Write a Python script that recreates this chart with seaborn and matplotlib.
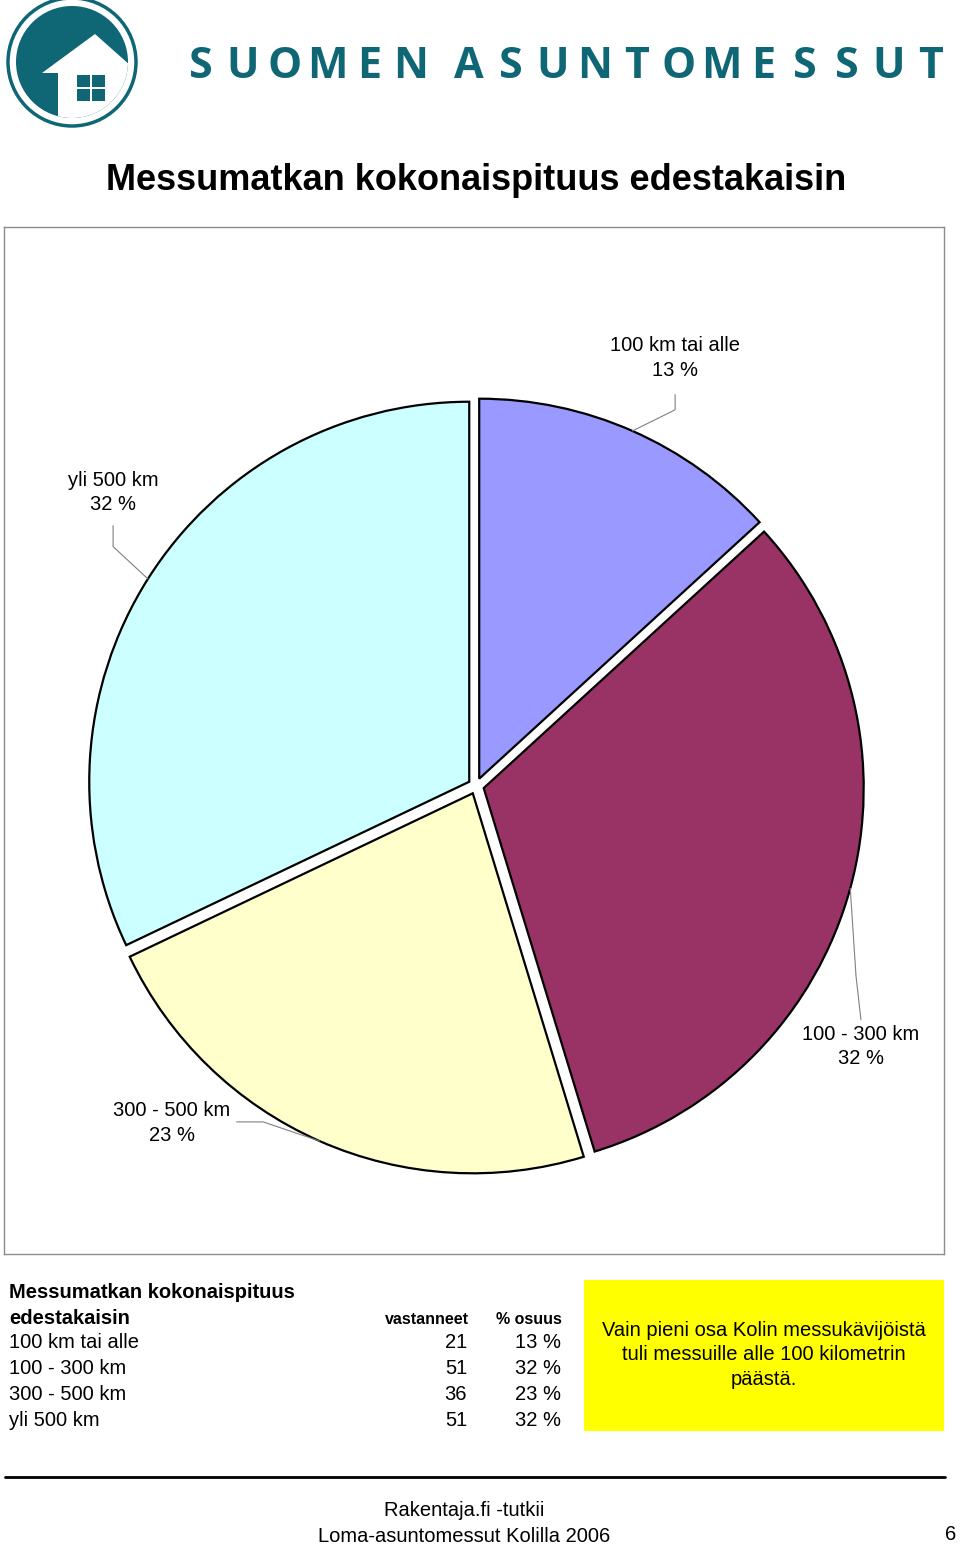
import numpy as np
import seaborn as sns
import matplotlib.pyplot as plt
from matplotlib.patches import Circle, Polygon, Rectangle

# data
categories = ["100 km tai alle", "100 - 300 km", "300 - 500 km", "yli 500 km"]
respondents = [21, 51, 36, 51]
shares = [13, 32, 23, 32]
slice_colors = ["#9999FF", "#993366", "#FFFFCC", "#CCFFFF"]

title = "Messumatkan kokonaispituus edestakaisin"
note_text = "Vain pieni osa Kolin messukävijöistä\ntuli messuille alle 100 kilometrin\npäästä."
footer_lines = ["Rakentaja.fi -tutkii", "Loma-asuntomessut Kolilla 2006"]
page_no = "6"

# label placement (pie data units, radius = 1)
label_xy = [(0.524, 1.126), (1.013, -0.685), (-0.80, -0.887), (-0.955, 0.773)]
leader_start = [(0.524, 1.030), (1.013, -0.615), (-0.63, -0.884), (-0.955, 0.685)]
leader_knee = [(0.524, 0.99), (1.00, -0.50), (-0.56, -0.884), (-0.955, 0.63)]

TEAL = "#0F6674"
FS = 14.5


def main():
    sns.set_theme(style="white")
    plt.rcParams["font.family"] = ["Liberation Sans", "DejaVu Sans"]
    plt.rcParams["text.color"] = "black"

    W, H = 960, 1545
    fig = plt.figure(figsize=(W / 100, H / 100), dpi=100)

    # background axes in pixel coordinates for page decoration
    bg = fig.add_axes([0, 0, 1, 1])
    bg.set_xlim(0, W)
    bg.set_ylim(H, 0)
    bg.axis("off")

    # logo
    bg.add_patch(Circle((72, 62), 64, facecolor="white", edgecolor=TEAL, lw=2.5))
    disk = Circle((72, 62), 56, facecolor=TEAL, edgecolor="none")
    bg.add_patch(disk)
    house = Polygon([(42, 73), (95, 34), (140, 74), (140, 130), (58, 130), (58, 73)],
                    closed=True, facecolor="white", edgecolor="none")
    bg.add_patch(house)
    house.set_clip_path(disk)
    for wx, wy in [(77, 75), (92, 75), (77, 89), (92, 89)]:
        bg.add_patch(Rectangle((wx, wy), 13, 12, facecolor=TEAL, edgecolor="none"))

    # brand name, spaced letters
    brand = "SUOMEN ASUNTOMESSUT"
    x = 201
    for ch in brand:
        if ch == " ":
            x += 16
            continue
        bg.text(x, 66, ch, fontsize=31, fontweight="bold", color=TEAL,
                ha="center", va="center", family=["Open Sans", "DejaVu Sans"])
        x += 42

    bg.text(476, 181, title, fontsize=26, fontweight="bold", ha="center", va="center")

    # pie chart
    ax = fig.add_axes([4 / W, (H - 1254) / H, 940 / W, 1027 / H])
    wedges, _ = ax.pie(respondents, colors=slice_colors, startangle=90, counterclock=False,
                       explode=[0.021] * 4,
                       wedgeprops=dict(edgecolor="black", linewidth=1.6))
    ax.set_aspect("auto")
    ax.set_xlim(-472 / 380, 468 / 380)
    ax.set_ylim(-468 / 380, 559 / 380)
    ax.set_frame_on(True)
    for sp in ax.spines.values():
        sp.set_visible(True)
        sp.set_color("#8c8c8c")
        sp.set_linewidth(1)

    for w, cat, pct, lxy, st, kn in zip(wedges, categories, shares, label_xy, leader_start, leader_knee):
        mid = np.deg2rad((w.theta1 + w.theta2) / 2)
        ex = w.center[0] + w.r * np.cos(mid)
        ey = w.center[1] + w.r * np.sin(mid)
        ax.plot([st[0], kn[0], ex], [st[1], kn[1], ey], color="#808080", lw=0.8)
        ax.text(lxy[0], lxy[1], f"{cat}\n{pct} %", fontsize=FS, ha="center", va="center",
                linespacing=1.35)

    # summary table
    bg.text(9, 1292, "Messumatkan kokonaispituus", fontsize=FS, fontweight="bold", va="center")
    bg.text(9, 1318, "edestakaisin", fontsize=FS, fontweight="bold", va="center")
    bg.text(469, 1320, "vastanneet", fontsize=11.5, fontweight="bold", va="center", ha="right")
    bg.text(562, 1320, "% osuus", fontsize=11.5, fontweight="bold", va="center", ha="right")
    row_y = [1343, 1368, 1394, 1420]
    for y, cat, n, pct in zip(row_y, categories, respondents, shares):
        bg.text(9, y, cat, fontsize=FS, va="center")
        bg.text(467, y, str(n), fontsize=FS, va="center", ha="right")
        bg.text(561, y, f"{pct} %", fontsize=FS, va="center", ha="right")

    # highlighted note
    bg.add_patch(Rectangle((584, 1280), 360, 151, facecolor="#FFFF00", edgecolor="none"))
    bg.text(764, 1355, note_text, fontsize=FS, ha="center", va="center", linespacing=1.37)

    # footer
    bg.plot([5, 945], [1477, 1477], color="black", lw=2)
    bg.text(464, 1511, footer_lines[0], fontsize=FS, ha="center", va="center")
    bg.text(464, 1536, footer_lines[1], fontsize=FS, ha="center", va="center")
    bg.text(951, 1534, page_no, fontsize=FS, ha="center", va="center")

    fig.savefig("out.png", dpi=100)
    plt.close(fig)


if __name__ == "__main__":
    main()
